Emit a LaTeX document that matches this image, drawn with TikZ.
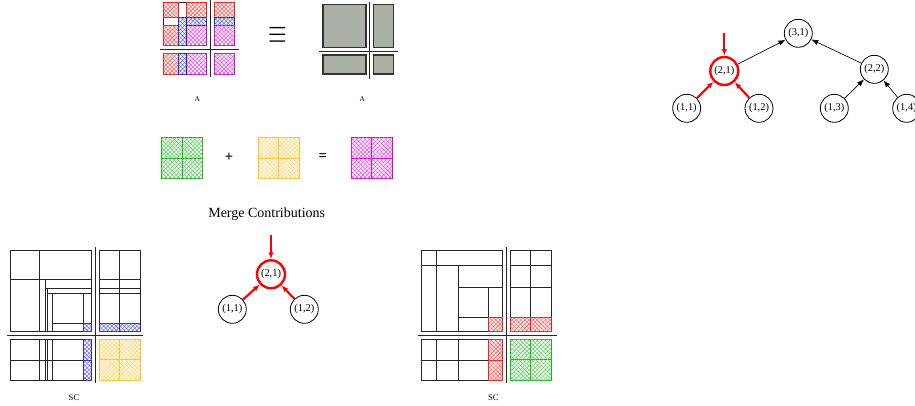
\documentclass[tikz,border=0pt]{standalone}
\usepackage{fontspec}
\setmainfont{Liberation Serif}
\usepackage{graphicx}
\usetikzlibrary{positioning, arrows.meta, patterns.meta}

\definecolor{mred}{RGB}{240,20,20}
\definecolor{mblue}{RGB}{30,30,190}
\definecolor{mmag}{RGB}{205,0,205}
\definecolor{mgreen}{RGB}{30,175,30}
\definecolor{myellow}{RGB}{255,190,40}
\definecolor{blockgray}{RGB}{170,176,168}

\begin{document}
\begin{tikzpicture}[
    x=0.75pt, y=-0.75pt,
    >=Latex,
    hatch/.style={draw=#1, line width=0.6pt, fill=#1!8,
        postaction={pattern={Lines[angle=45,distance=2.2pt,line width=0.3pt]}, pattern color=#1!70},
        postaction={pattern={Lines[angle=-45,distance=2.2pt,line width=0.3pt]}, pattern color=#1!70}},
    quadbox/.style={hatch=#1, path picture={\draw[#1, line width=0.6pt]
        (path picture bounding box.north) -- (path picture bounding box.south)
        (path picture bounding box.west) -- (path picture bounding box.east);}},
    grayblk/.style={draw=black!80, line width=0.8pt, fill=blockgray},
    blk/.style={draw=black!85, line width=0.7pt},
    divline/.style={draw=black!85, line width=0.9pt},
    vtx/.style={circle, draw, line width=0.6pt, minimum size=21pt, inner sep=0pt, font=\fontsize{7.8}{9}\selectfont},
    hotvtx/.style={vtx, draw=red, line width=1.8pt},
    link/.style={->, line width=0.5pt},
    hot/.style={-{Latex[length=5pt,width=4pt]}, draw=red, line width=1.6pt},
    lbl/.style={font=\fontsize{5.5}{6}\selectfont, inner sep=0pt},
    oper/.style={font=\fontsize{11}{12}\selectfont\bfseries}
]
\useasboundingbox (0,0) rectangle (915,405);

% Hatched matrix A
\draw[blk, line width=0.9pt] (163.3,2.7) rectangle (206.7,45.7);
\draw[hatch=mred] (163.3,2.7) rectangle (178.3,17.3);
\draw[hatch=mred] (186,2.7) rectangle (206.7,17.3);
\draw[hatch=mred] (163.3,25) rectangle (178.3,45.7);
\draw[hatch=mmag] (186,25) rectangle (206.7,45.7);
\draw[hatch=mblue] (178.3,17.3) rectangle (206.7,25);
\draw[hatch=mblue] (178.3,17.3) rectangle (186,45.7);
\draw[hatch=mred] (214,2.7) rectangle (234.7,17.3);
\draw[hatch=mblue] (214,17.3) rectangle (234.7,25);
\draw[hatch=mmag] (214,25) rectangle (234.7,45.7);
\draw[hatch=mred] (163.3,53.3) rectangle (178.3,74);
\draw[hatch=mmag] (186,53.3) rectangle (206.7,74);
\draw[hatch=mblue] (178.3,53.3) rectangle (186,74);
\draw[hatch=mmag] (214,53.3) rectangle (234.7,74);
\draw[divline] (160,49.3) -- (239,49.3);
\draw[divline] (210.3,0) -- (210.3,77);
\node[lbl] (lblA) at (197.3,99) {A};

% Equivalent block matrix
\node (equiv) at (277.5,35) {\scalebox{1.8}[2.6]{$\equiv$}};
\draw[grayblk] (323,4.7) rectangle (366,47.7);
\draw[grayblk] (373.3,4.7) rectangle (393.7,47.7);
\draw[grayblk] (323,55) rectangle (366,74);
\draw[grayblk] (373.3,55) rectangle (393.7,74);
\draw[divline] (319,51.7) -- (397.7,51.7);
\draw[divline] (369.3,1.7) -- (369.3,79);
\node[lbl] (lblB) at (362.3,99) {A};

% Merge of contribution blocks
\draw[quadbox=mgreen] (161.7,137.7) rectangle (202.7,178.3);
\node[oper] (plus) at (229,157.3) {+};
\draw[quadbox=myellow] (258.3,137.7) rectangle (299.3,178.3);
\node[oper] (eq) at (322.7,157.3) {=};
\draw[quadbox=mmag] (351,137.7) rectangle (392,178.3);
\node[font=\fontsize{10.5}{12}\selectfont] (merge) at (266.7,214.3) {Merge Contributions};

% Assembly tree
\node[vtx] (t31) at (798.3,33.3) {(3,1)};
\node[hotvtx] (t21) at (724.3,71) {(2,1)};
\node[vtx] (t22) at (874.3,69.3) {(2,2)};
\node[vtx] (t11) at (686.7,108.3) {(1,1)};
\node[vtx] (t12) at (759,108.3) {(1,2)};
\node[vtx] (t13) at (834.3,108.3) {(1,3)};
\node[vtx] (t14) at (906.7,108.3) {(1,4)};
\coordinate (t21in) at (724.3,33.3);
\draw[link] (t21) -- (t31);
\draw[link] (t22) -- (t31);
\draw[link] (t13) -- (t22);
\draw[link] (t14) -- (t22);
\draw[hot] (t11) -- (t21);
\draw[hot] (t12) -- (t21);
\draw[hot] (t21in) -- (t21);

% Current node
\node[hotvtx] (b21) at (271,274.3) {(2,1)};
\node[vtx] (b11) at (232.3,309.3) {(1,1)};
\node[vtx] (b12) at (304.3,309.3) {(1,2)};
\coordinate (b21in) at (271,235);
\draw[hot] (b11) -- (b21);
\draw[hot] (b12) -- (b21);
\draw[hot] (b21in) -- (b21);

% SC from first child
\draw[blk] (10.7,250.7) rectangle (91.7,331.7);
\draw[blk] (39,250.7) -- (39,331.7) (10.7,279) -- (91.7,279)
    (45,279) -- (45,331.7) (45,288.3) -- (91.7,288.3)
    (47.3,288.3) -- (47.3,331.7) (47.3,293.3) -- (91.7,293.3)
    (52.7,293.3) -- (52.7,331.7) (83.3,293.3) -- (83.3,331.7)
    (52.7,323.3) -- (83.3,323.3);
\draw[hatch=mblue] (83.3,323.3) rectangle (91.7,331.7);
\draw[blk] (99.3,250.7) rectangle (140,331.7);
\draw[blk] (119.3,250.7) -- (119.3,331.7) (99.3,279) -- (140,279)
    (99.3,288.3) -- (140,288.3) (99.3,293.3) -- (140,293.3);
\draw[hatch=mblue] (99.3,323.3) rectangle (119.3,331.7);
\draw[hatch=mblue] (119.3,323.3) rectangle (140,331.7);
\draw[blk] (10.7,339.3) rectangle (83.3,380);
\draw[blk] (39,339.3) -- (39,380) (45,339.3) -- (45,380)
    (47.3,339.3) -- (47.3,380) (52.7,339.3) -- (52.7,380)
    (10.7,360) -- (83.3,360);
\draw[hatch=mblue] (83.3,339.3) rectangle (91.7,360);
\draw[hatch=mblue] (83.3,360) rectangle (91.7,380);
\draw[quadbox=myellow] (99.3,339.3) rectangle (140,380);
\draw[divline] (7.3,335.7) -- (143.3,335.7);
\draw[divline] (95.7,247.3) -- (95.7,383.3);
\node[lbl, font=\fontsize{6.5}{7}\selectfont] (lblSC1) at (74,397.3) {SC};

% SC from second child
\draw[blk] (421.7,250.7) rectangle (502.7,331.7);
\draw[blk] (436,250.7) -- (436,331.7) (421.7,265) -- (502.7,265)
    (458.3,265) -- (458.3,331.7) (458.3,287.3) -- (502.7,287.3)
    (488.3,287.3) -- (488.3,331.7) (458.3,317.3) -- (488.3,317.3);
\draw[hatch=mred] (488.3,317.3) rectangle (502.7,331.7);
\draw[blk] (510,250.7) rectangle (551,331.7);
\draw[blk] (530.7,250.7) -- (530.7,331.7) (510,265) -- (551,265)
    (510,287.3) -- (551,287.3);
\draw[hatch=mred] (510,317.3) rectangle (530.7,331.7);
\draw[hatch=mred] (530.7,317.3) rectangle (551,331.7);
\draw[blk] (421.7,339.3) rectangle (488.3,380.3);
\draw[blk] (436,339.3) -- (436,380.3) (458.3,339.3) -- (458.3,380.3)
    (421.7,360) -- (488.3,360);
\draw[hatch=mred] (488.3,339.3) rectangle (502.7,360);
\draw[hatch=mred] (488.3,360) rectangle (502.7,380.3);
\draw[quadbox=mgreen] (510,339.3) rectangle (551,380.3);
\draw[divline] (418.3,335.7) -- (556.7,335.7);
\draw[divline] (506.7,247.3) -- (506.7,383.3);
\node[lbl, font=\fontsize{6.5}{7}\selectfont] (lblSC2) at (493.3,397.3) {SC};

\end{tikzpicture}
\end{document}
